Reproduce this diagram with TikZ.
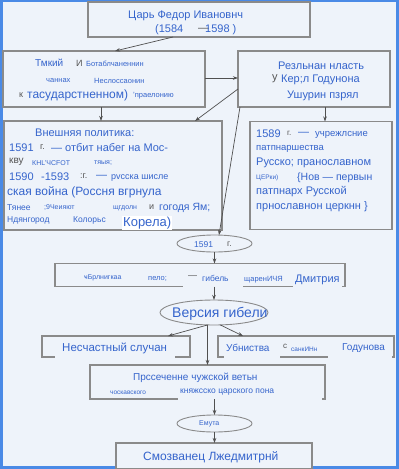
\documentclass[tikz,border=0pt]{standalone}
\usepackage{fontspec}
\setmainfont{Liberation Sans}
\usetikzlibrary{arrows.meta,shapes.geometric}
\definecolor{bg}{HTML}{EEF3FA}
\definecolor{frame}{HTML}{4A8AE6}
\definecolor{txt}{HTML}{3564CC}
\definecolor{gry}{HTML}{555555}
\definecolor{edge}{HTML}{8A8A8A}
\definecolor{conn}{HTML}{505050}
\tikzset{
  boxnode/.style={draw=edge, line width=1.1pt, fill=bg, inner sep=0pt, outer sep=0pt},
  ellnode/.style={ellipse, draw=edge, line width=0.9pt, fill=bg, inner sep=0pt, outer sep=0pt},
  tx/.style={anchor=west, inner sep=0pt, text=txt, font=\fontsize{#1}{#1}\selectfont},
  tx/.default=11,
  gr/.style={text=gry},
  gap/.style={fill=bg},
  arr/.style={draw=conn, line width=0.7pt, -{Stealth[length=5pt,width=3.5pt]}},
}
\begin{document}
\begin{tikzpicture}[x=1pt,y=-1pt]
\useasboundingbox (0,0) rectangle (399,469);
\fill[frame] (0,0) rectangle (399,469);
\fill[bg] (3,2) rectangle (396,466);

% boxes
\node[boxnode, minimum width=222pt, minimum height=35pt] (top) at (199,19.5) {};
\node[boxnode, minimum width=202pt, minimum height=56pt] (b2l) at (104,79) {};
\node[boxnode, minimum width=152pt, minimum height=56pt] (b2r) at (314,79) {};
\node[boxnode, minimum width=218pt, minimum height=109pt] (b3l) at (113,175.5) {};
\node[boxnode, minimum width=142pt, minimum height=108pt] (b3r) at (321,175.5) {};
\node[ellnode, minimum width=75pt, minimum height=17pt] (e1591) at (214.5,243.5) {};
\node[boxnode, minimum width=290pt, minimum height=23pt] (b4) at (200,275) {};
\node[ellnode, minimum width=108pt, minimum height=25pt] (ever) at (214,312.5) {};
\node[boxnode, minimum width=148pt, minimum height=21pt] (b5l) at (116,346.5) {};
\node[boxnode, minimum width=176pt, minimum height=21pt] (b5r) at (306,346.5) {};
\node[boxnode, minimum width=235pt, minimum height=34pt] (b6) at (207.5,382) {};
\node[ellnode, minimum width=75pt, minimum height=17pt] (eemu) at (214.5,423.5) {};
\node[boxnode, minimum width=196pt, minimum height=26pt] (b7) at (214,456) {};

% gaps where text backgrounds cover box borders
\fill[gap] (183,285) rectangle (243,288.5);
\fill[gap] (293,285) rectangle (342,288.5);
\fill[gap] (55,355.5) rectangle (175,358.5);
\fill[gap] (224,355.5) rectangle (280,358.5);
\fill[gap] (328,355.5) rectangle (392,358.5);
\fill[gap] (178,397.5) rectangle (322,400.5);

% texts: top
\node[tx=11] (t1a) at (128,16) {Царь Федор Ивановнч};
\node[tx=11] (t1b) at (155,29.5) {(1584};
\node[tx=11, gr] (t1c) at (198,29.5) {—};
\node[tx=11] (t1d) at (205,29.5) {1598 )};

% left box 2
\node[tx=10] (a1) at (35,63) {Тмкий};
\node[tx=9, gr] (a2) at (76,63) {И};
\node[tx=7.5] (a3) at (86,63.5) {Ботаблчаненнин};
\node[tx=7.5] (a4) at (46,81) {чаннах};
\node[tx=7.5] (a5) at (94,81) {Неслоссаонин};
\node[tx=9, gr] (a6) at (19,95) {к};
\node[tx=12] (a7) at (27,95.5) {тасударстненном)};
\node[tx=7.5] (a8) at (133,96) {'праелонию};

% right box 2
\node[tx=11] (r1) at (278,66) {Резльнан нласть};
\node[tx=11, gr] (r2a) at (272,79) {у};
\node[tx=11] (r2b) at (281,80) {Кер;л Годунона};
\node[tx=11] (r3) at (287,96) {Ушурин пзрял};

% left box 3
\node[tx=11] (l1) at (35,133) {Внешняя политика:};
\node[tx=11] (l2a) at (9,148) {1591};
\node[tx=9, gr] (l2b) at (40,147) {г.};
\node[tx=11] (l2c) at (51,148) {— отбит набег на Мос-};
\node[tx=10, gr] (l3a) at (9,162) {кву};
\node[tx=7] (l3b) at (32,163) {КНL'ЧСFOT};
\node[tx=7] (l3c) at (94,163) {тяыя;};
\node[tx=11] (l4a) at (9,177) {1590};
\node[tx=11] (l4b) at (41,177) {-1593};
\node[tx=9, gr] (l4c) at (80,176) {:г.};
\node[tx=11] (l4d) at (96,177) {—};
\node[tx=9] (l4e) at (111,178) {рvсска шисле};
\node[tx=12] (l5) at (7,192) {ская война (Россня вгрнула};
\node[tx=8.5] (l6a) at (7,208) {Тянее};
\node[tx=7] (l6b) at (44,208) {;9Чеияют};
\node[tx=7] (l6c) at (113,208) {щгдолн};
\node[tx=9, gr] (l6d) at (149,207) {и};
\node[tx=10.5] (l6e) at (159,208) {гогодя Ям;};
\node[tx=8.5] (l7a) at (7,220) {Ндянгород};
\node[tx=8.5] (l7b) at (73,220) {Колорьс};
\node[tx=13, fill=white, inner sep=1pt] (l7c) at (122,223) {Корела)};

% right box 3
\node[tx=11] (m1a) at (256,134) {1589};
\node[tx=8, gr] (m1b) at (287,133) {г.};
\node[tx=11] (m1c) at (298,134) {—};
\node[tx=9.5] (m1d) at (315,135) {учрежлсние};
\node[tx=9.5] (m2) at (256,149) {патпнаршества};
\node[tx=11] (m3) at (256,163) {Русско; пранославном};
\node[tx=6.5] (m4a) at (256,178) {ЦЕРки)};
\node[tx=10.5] (m4b) at (297,178) {\{Нов — первын};
\node[tx=11] (m5) at (256,192) {патпнарх Русской};
\node[tx=11] (m6) at (256,207) {прнославнон церкнн \}};

% ellipse 1591
\node[tx=8.5] (e1) at (194,245) {1591};
\node[tx=8.5, gr] (e2) at (227,244) {г.};

% box 4
\node[tx=7] (d1) at (84,278) {ҹБрлнигкаа};
\node[tx=7.5] (d2) at (148,279) {пело;};
\node[tx=9, gr] (d3) at (188,277.5) {—};
\node[tx=8.5] (d4) at (202,278) {гибель};
\node[tx=7.5] (d5) at (244,279.5) {щаренИЧЯ};
\node[tx=11] (d6) at (295,279.5) {Дмитрия};

% version
\node[tx=14] (v1) at (172,313.5) {Версия гибели};

% box 5
\node[tx=11.5] (n1) at (62,348) {Несчастный случан};
\node[tx=10] (n2) at (226,348) {Убниства};
\node[tx=8, gr] (n3) at (283,346.5) {с};
\node[tx=6.5] (n4) at (291,349) {санкИНн};
\node[tx=10] (n5) at (342,348) {Годунова};

% box 6
\node[tx=10] (p1) at (133,377.5) {Прссеченне чужской ветьн};
\node[tx=6.5] (p2) at (110,393) {чоскавского};
\node[tx=8.5] (p3) at (180,392.5) {княжсско царского пона};

% emuta
\node[tx=7] (q1) at (199,424) {Емута};

% box 7
\node[tx=12] (s1) at (143,457) {Смозванец Лжедмитрнй};

% connectors
\draw[arr] ([xshift=-26pt]top.south) -- ([xshift=11pt]b2l.north);
\draw[arr] ([yshift=1pt]b2l.east) -- ([yshift=1pt]b2r.west);
\draw[arr] ([xshift=-3pt]b2l.south) -- ([xshift=-3pt]b2l.south |- b3l.north);
\draw[arr] ([yshift=-10pt]b2r.west) -- ([xshift=82pt]b3l.north);
\draw[arr] ([xshift=2pt]b2r.south west) -- (e1591.62);
\draw[arr] ([xshift=11pt]b2r.south) -- ([xshift=11pt]b2r.south |- b3r.north);
\draw[arr] (e1591.south) -- (e1591.south |- b4.north);
\draw[arr] (b4.south -| ever.north) -- (ever.north);
\draw[arr] (ever.243) -- ([xshift=52pt]b5l.north);
\draw[arr] (ever.297) -- ([xshift=-63pt]b5r.north);
\draw[arr] (ever.south -| b6.north) -- (b6.north);
\draw[arr] (b6.south -| eemu.north) -- (eemu.north);
\draw[arr] (eemu.south) -- (eemu.south |- b7.north);
\end{tikzpicture}
\end{document}
